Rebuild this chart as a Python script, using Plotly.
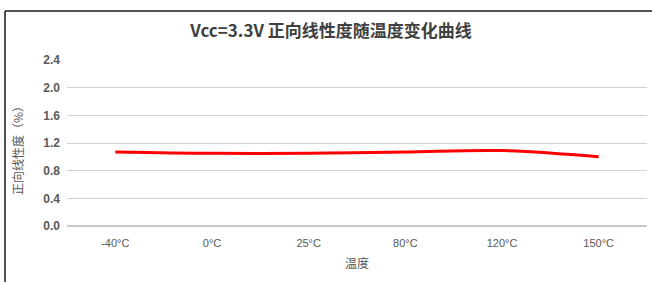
import plotly.graph_objects as go

categories = ["-40°C", "0°C", "25°C", "80°C", "120°C", "150°C"]
linearity = [1.07, 1.05, 1.05, 1.07, 1.09, 1.00]
y_ticks = [0.0, 0.4, 0.8, 1.2, 1.6, 2.0, 2.4]

fig = go.Figure()
fig.add_trace(go.Scatter(
    x=categories, y=linearity, mode="lines",
    line=dict(color="#ff0000", width=3, shape="spline", smoothing=1.0),
    showlegend=False, hoverinfo="skip",
))

L, R, T, B = 67, 5, 60, 56
W, H = 652, 282
pw, ph = W - L - R, H - T - B
bx = (5 - L) / pw
by_top = 1 + (T - 11) / ph
by_bot = -(B + 2) / ph
bx_right = 1 + (R + 2) / pw

fig.update_layout(
    width=W, height=H,
    margin=dict(l=L, r=R, t=T, b=B, autoexpand=False),
    paper_bgcolor="white", plot_bgcolor="white",
    font=dict(family="Noto Sans CJK SC, Liberation Sans, sans-serif", color="#595959", size=11),
    title=dict(
        text="Vcc=3.3V 正向线性度随温度变化曲线",
        x=(331 - L) / pw, xref="paper", xanchor="center",
        y=1 - 31 / H, yanchor="middle",
        font=dict(size=17, color="#404040", family="Noto Sans CJK SC, sans-serif", weight="bold"),
    ),
    xaxis=dict(
        type="category", range=[-0.5, 5.5], showgrid=False, showline=False, zeroline=False,
        ticks="", ticklabelstandoff=9,
        tickfont=dict(size=11, color="#595959", family="Liberation Sans, sans-serif"),
    ),
    yaxis=dict(
        range=[0, 2.4], tickvals=y_ticks, tickformat=".1f",
        showgrid=True, gridcolor="#d0d0d0", gridwidth=1,
        zeroline=True, zerolinecolor="#c8c8c8", zerolinewidth=1.5,
        showline=False, ticks="", ticklabelstandoff=6,
        tickfont=dict(size=12, color="#595959", family="Liberation Sans, sans-serif", weight="bold"),
    ),
    annotations=[
        dict(text="正向线性度（%）", xref="paper", yref="paper",
             x=(17 - L) / pw, y=(T + ph - 148) / ph, textangle=-90,
             showarrow=False, xanchor="center", yanchor="middle",
             font=dict(size=12, color="#595959")),
        dict(text="温度", xref="paper", yref="paper",
             x=(357 - L) / pw, y=-(262 - T - ph) / ph, showarrow=False,
             xanchor="center", yanchor="middle",
             font=dict(size=12, color="#595959")),
    ],
    shapes=[
        dict(type="line", xref="paper", yref="paper", x0=bx, x1=bx_right, y0=by_top, y1=by_top,
             line=dict(color="#1a1a1a", width=1.5)),
        dict(type="line", xref="paper", yref="paper", x0=bx, x1=bx, y0=by_top, y1=by_bot,
             line=dict(color="#1a1a1a", width=1.5)),
    ],
)

fig.write_html("out.html", config={"displayModeBar": False},
               post_script="document.body.style.margin='0';")
